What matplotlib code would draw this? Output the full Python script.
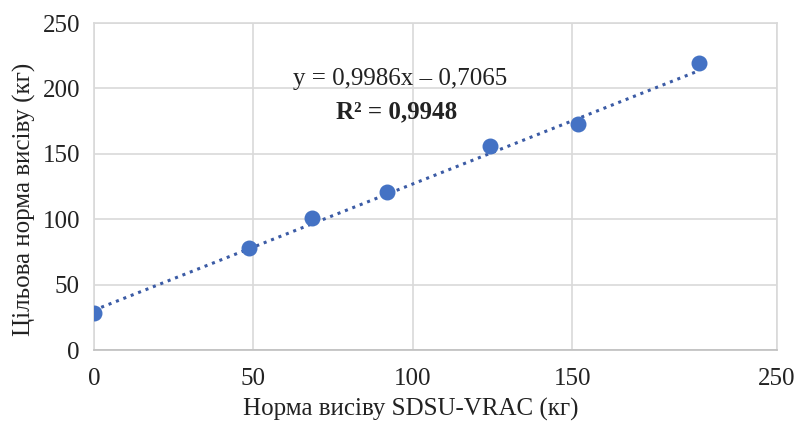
import matplotlib.pyplot as plt
import numpy as np

# values
rate_sdsu = [0, 48.6, 68.3, 91.9, 124.1, 151.7, 189.7]
rate_target = [28.3, 78.0, 100.9, 120.8, 156.0, 172.8, 219.4]

# dotted trend line end points as drawn in the picture
trend_x = [0, 188.5]
trend_y = [30.5, 212.5]

x_ticks = [0, 50, 100, 150, 214]
x_tick_labels = ['0', '50', '100', '150', '250']
y_ticks = [0, 50, 100, 150, 200, 250]

eq_text = 'y = 0,9986x – 0,7065'
r2_text = 'R² = 0,9948'

plt.rcParams['font.family'] = ['Liberation Serif', 'DejaVu Serif']

fig = plt.figure(figsize=(7.95, 4.26), dpi=100)
ax = fig.add_axes([0.118, 0.178, 0.859, 0.768])

ax.plot(trend_x, trend_y, linestyle=(0, (1, 1.6)), color='#3B5BA5', linewidth=2.2, zorder=2)
ax.scatter(rate_sdsu, rate_target, s=110, color='#4472C4', zorder=3)

ax.set_xlim(0, 214)
ax.set_ylim(0, 250)
ax.set_xticks(x_ticks)
ax.set_xticklabels(x_tick_labels)
ax.set_yticks(y_ticks)
ax.grid(True, color='#D9D9D9', linewidth=1.2)
ax.set_axisbelow(True)
for side in ['top', 'right', 'left']:
    ax.spines[side].set_color('#D9D9D9')
    ax.spines[side].set_linewidth(1.2)
ax.spines['bottom'].set_color('#BFBFBF')
ax.spines['bottom'].set_linewidth(1.2)
ax.tick_params(axis='both', length=0, labelsize=18, colors='#222222')
ax.tick_params(axis='x', pad=13)
ax.tick_params(axis='y', pad=10)

ax.set_xlabel('Норма висіву SDSU-VRAC (кг)', fontsize=18, color='#222222')
ax.xaxis.set_label_coords(0.464, -0.145)
ax.set_ylabel('Цільова норма висіву (кг)', fontsize=18, color='#222222')
ax.yaxis.set_label_coords(-0.085, 0.46)

ax.text(0.448, 0.83, eq_text, transform=ax.transAxes, ha='center', va='center',
        fontsize=18, color='#222222')
ax.text(0.444, 0.73, r2_text, transform=ax.transAxes, ha='center', va='center',
        fontsize=18, fontweight='bold', color='#222222')

fig.savefig('out.png', dpi=100, facecolor='white')
